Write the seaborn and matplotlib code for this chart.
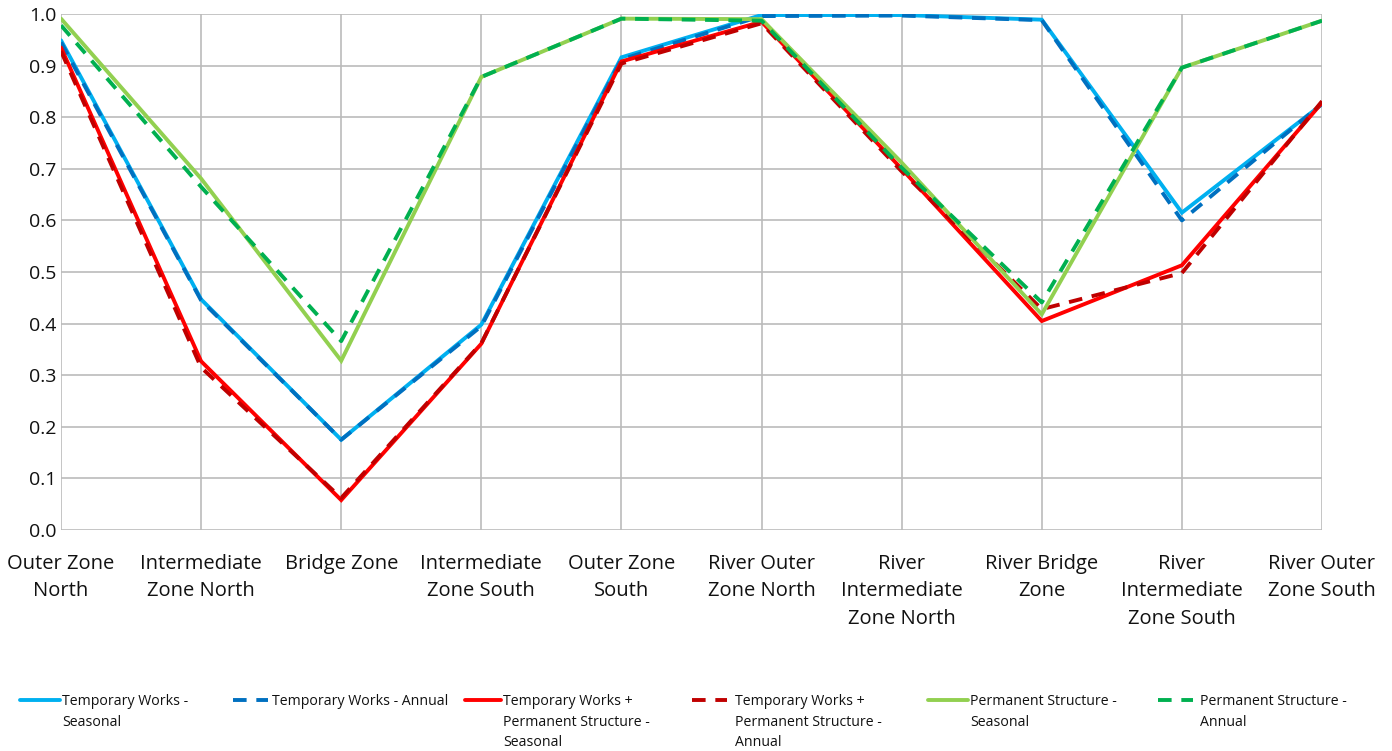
import matplotlib
matplotlib.use("Agg")
import matplotlib.pyplot as plt
import seaborn as sns
import numpy as np
from matplotlib.lines import Line2D

categories = ["Outer Zone\nNorth", "Intermediate\nZone North", "Bridge Zone",
              "Intermediate\nZone South", "Outer Zone\nSouth", "River Outer\nZone North",
              "River\nIntermediate\nZone North", "River Bridge\nZone",
              "River\nIntermediate\nZone South", "River Outer\nZone South"]

tw_seasonal = [0.949, 0.447, 0.175, 0.398, 0.916, 0.998, 0.998, 0.989, 0.615, 0.825]
tw_annual = [0.945, 0.445, 0.175, 0.395, 0.912, 0.996, 0.997, 0.988, 0.600, 0.826]
twps_seasonal = [0.935, 0.327, 0.058, 0.361, 0.908, 0.985, 0.700, 0.405, 0.513, 0.828]
twps_annual = [0.928, 0.315, 0.062, 0.362, 0.904, 0.982, 0.695, 0.428, 0.498, 0.831]
ps_seasonal = [0.991, 0.681, 0.328, 0.878, 0.991, 0.990, 0.712, 0.418, 0.896, 0.987]
ps_annual = [0.978, 0.665, 0.366, 0.878, 0.991, 0.987, 0.702, 0.441, 0.896, 0.987]

labels = ["Temporary Works -\nSeasonal", "Temporary Works - Annual",
          "Temporary Works +\nPermanent Structure -\nSeasonal",
          "Temporary Works +\nPermanent Structure -\nAnnual",
          "Permanent Structure -\nSeasonal", "Permanent Structure -\nAnnual"]

sns.set_style("white")
plt.rcParams['font.family'] = ['Open Sans', 'DejaVu Sans']

fig = plt.figure(figsize=(13.92, 7.51), dpi=100)
ax = fig.add_axes([61/1392, 1-530/751, (1322-61)/1392, (530-14)/751])

series = [tw_seasonal, tw_annual, twps_seasonal, twps_annual, ps_seasonal, ps_annual]
colors = ["#00B0F0", "#0070C0", "#FF0000", "#C00000", "#92D050", "#00B050"]
dashed = [False, True, False, True, False, True]
x = np.arange(len(categories))

for vals, c, d, lab in zip(series, colors, dashed, labels):
    ls = (0, (3.5, 2.5)) if d else "-"
    sns.lineplot(x=x, y=vals, ax=ax, color=c, linewidth=2.8, linestyle=ls,
                 label=lab, legend=False, solid_joinstyle="miter", dash_capstyle="butt")

ax.set_xlim(0, len(categories) - 1)
ax.set_ylim(0, 1.0)
ax.set_yticks(np.arange(0, 1.01, 0.1))
ax.set_yticklabels([f"{v:.1f}" for v in np.arange(0, 1.01, 0.1)], fontsize=14, color="#111111")
ax.set_xticks(x)
ax.set_xticklabels(categories, fontsize=14.5, color="#111111", linespacing=1.5)
ax.grid(True, color="#BBBBBB", linewidth=1.2)
for s in ax.spines.values():
    s.set_visible(False)
ax.tick_params(axis="x", length=8, color="#CCCCCC", width=1.2, pad=9)
ax.tick_params(axis="y", length=0, pad=3)
ax.set_axisbelow(True)

# Manual legend
entries = [(20, 60, 62), (233, 268, 272), (465, 501, 503), (692, 727, 735), (928, 968, 970), (1158, 1193, 1200)]
yl = 1 - 700/751
for (x0, x1, xt), c, d, lab in zip(entries, colors, dashed, labels):
    ls = (0, (3.5, 2.5)) if d else "-"
    fig.add_artist(Line2D([x0/1392, x1/1392], [yl, yl], color=c, linewidth=2.8,
                          linestyle=ls, transform=fig.transFigure))
    fig.text(xt/1392, 1 - 694/751, lab, fontsize=10.2, va="top", ha="left",
             color="#111111", linespacing=1.5)

fig.savefig("out.png", dpi=100, facecolor="white")
